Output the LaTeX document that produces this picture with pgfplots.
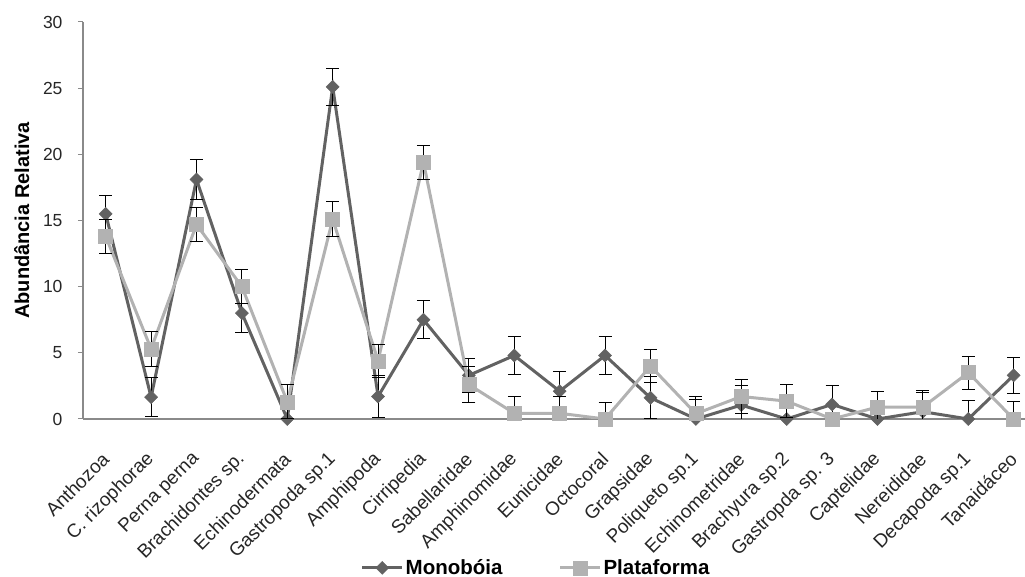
\documentclass[border=0pt]{standalone}
\usepackage{fontspec}
\setmainfont{Liberation Sans}
\usepackage{pgfplots}
\usepackage{pgfplotstable}
\pgfplotsset{compat=1.18}
\definecolor{mono}{HTML}{626262}
\definecolor{plat}{HTML}{B2B2B2}
\definecolor{axgray}{HTML}{8A8A8A}
\pgfplotstableread{
x mono monoerr plat platerr
0 15.5 1.4 13.8 1.3
1 1.65 1.45 5.3 1.3
2 18.1 1.5 14.7 1.3
3 8.0 1.5 10.0 1.3
4 0 0 1.3 1.3
5 25.1 1.4 15.1 1.3
6 1.7 1.6 4.4 1.25
7 7.5 1.45 19.4 1.3
8 3.3 1.3 2.6 1.35
9 4.8 1.4 0.43 1.27
10 2.1 1.5 0.43 1.3
11 4.8 1.4 0 1.26
12 1.6 1.6 4.0 1.25
13 0 1.5 0.4 1.3
14 1.05 1.5 1.7 1.25
15 0 0 1.35 1.25
16 1.1 1.4 0 0
17 0 0 0.9 1.2
18 0.55 1.45 0.9 1.24
19 0 1.4 3.5 1.25
20 3.3 1.35 0 1.3
}\datatable
\begin{document}
\begin{tikzpicture}
\begin{axis}[
  scale only axis,
  width=942pt, height=397pt,
  xmin=-0.5, xmax=20.25,
  ymin=0, ymax=30,
  ytick={0,5,...,30},
  xtick={0,...,20},
  xticklabels={Anthozoa, C. rizophorae, Perna perna, Brachidontes sp., Echinodermata, Gastropoda sp.1, Amphipoda, Cirripedia, Sabellaridae, Amphinomidae, Eunicidae, Octocoral, Grapsidae, Poliqueto sp.1, Echinometridae, Brachyura sp.2, Gastropda sp. 3, Captelidae, Nereididae, Decapoda sp.1, Tanaidáceo},
  minor xtick={-0.5,0.5,...,20.5},
  axis x line*=bottom,
  axis y line*=left,
  axis line style={axgray, line width=1.2pt},
  tick align=outside,
  major tick length=5pt,
  minor tick length=6pt,
  xtick style={draw=none},
  ytick style={axgray, line width=1pt},
  minor x tick style={axgray, line width=1pt},
  /pgf/number format/assume math mode=true,
  tick label style={text=black!85},
  yticklabel style={font=\fontsize{17.5}{20}\selectfont, xshift=-12pt},
  xticklabel style={font=\fontsize{19}{22}\selectfont, xshift=0pt, yshift=-32pt, rotate=45, anchor=east, inner sep=0pt},
  ylabel={Abundância Relativa},
  ylabel style={font=\bfseries\fontsize{20}{24}\selectfont, at={(axis description cs:-0.065,0.5)}, anchor=center},
  clip mode=individual,
  legend style={at={(axis description cs:0.481,-0.375)}, anchor=center, draw=none, legend columns=2,
    font=\bfseries\fontsize{20.5}{24}\selectfont,
    /tikz/every even column/.append style={column sep=54pt},
    /tikz/every node/.append style={inner xsep=2pt}},
  legend image code/.code={\draw[mark repeat=2,mark phase=2,#1] plot coordinates {(0pt,0pt) (20pt,0pt) (40pt,0pt)};},
]
\addplot[mono, line width=3pt, mark=square*, mark size=4.6pt, mark options={rotate=45, solid, fill=mono, line width=0.5pt},
  error bars/.cd, y dir=both, y explicit, error bar style={black, line width=1pt}, error mark options={black, line width=1pt, mark size=6.5pt, rotate=90}]
  table[x=x, y=mono, y error=monoerr] {\datatable};
\addlegendentry{Monobóia}
\addplot[plat, line width=3pt, mark=square*, mark size=7pt, mark options={solid, fill=plat, line width=0.5pt},
  error bars/.cd, y dir=both, y explicit, error bar style={black, line width=1pt}, error mark options={black, line width=1pt, mark size=6.5pt, rotate=90}]
  table[x=x, y=plat, y error=platerr] {\datatable};
\addlegendentry{Plataforma}
\end{axis}
\pgfresetboundingbox
\path[use as bounding box] (-83pt,-158pt) rectangle (942pt,419pt);
\end{tikzpicture}
\end{document}
